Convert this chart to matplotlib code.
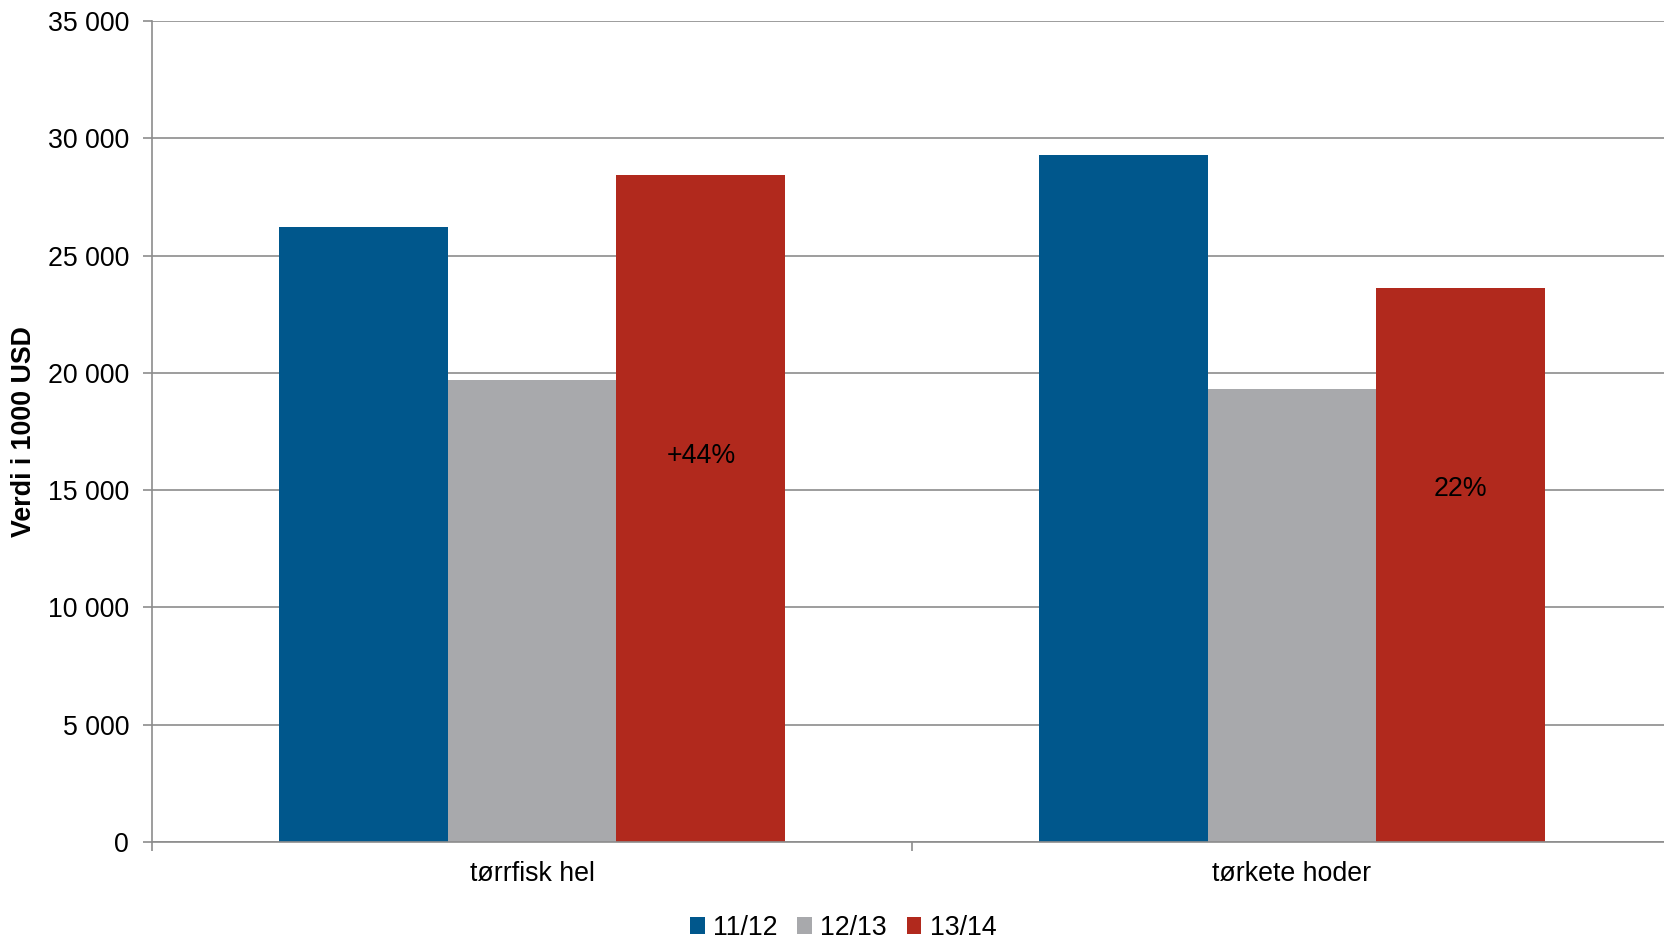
import matplotlib
matplotlib.use("Agg")
import matplotlib.pyplot as plt
from matplotlib.patches import Patch
from matplotlib.ticker import FuncFormatter
import numpy as np

plt.rcParams['font.family'] = ['Liberation Sans', 'DejaVu Sans']

categories = ["tørrfisk hel", "tørkete hoder"]
series_names = ["11/12", "12/13", "13/14"]
v_1112 = [26200, 29300]
v_1213 = [19700, 19300]
v_1314 = [28450, 23600]
annotations = ["+44%", "22%"]
annotation_y = [16450, 15050]
colors = ["#00578C", "#A8A9AC", "#B1291D"]

FS = 19.3

fig = plt.figure(figsize=(16.65, 9.4), dpi=100)
ax = fig.add_axes([152/1665, 1-842/940, (1672-152)/1665, (842-21)/940])

x = np.arange(len(categories))
w = 1/4.5
for i, (vals, c) in enumerate(zip([v_1112, v_1213, v_1314], colors)):
    ax.bar(x + (i-1)*w, vals, width=w, color=c, edgecolor='none', zorder=3)

for i, (t, yv) in enumerate(zip(annotations, annotation_y)):
    ax.text(x[i] + w, yv, t, ha='center', va='center', fontsize=FS, color='black', zorder=4)

ax.set_xlim(-0.5, 1.5)
ax.set_ylim(0, 35000)
ax.set_yticks(np.arange(0, 35001, 5000))
ax.yaxis.set_major_formatter(FuncFormatter(lambda v, p: f"{int(v):,}".replace(",", " ")))
ax.grid(axis='y', color='#8C8C8C', linewidth=1.2, zorder=1)
ax.tick_params(axis='y', length=6.5, width=1.2, color='#8C8C8C', labelsize=FS, pad=10)

ax.set_xticks([-0.5, 0.5, 1.5])
ax.set_xticklabels([])
ax.set_xticks(x, minor=True)
ax.set_xticklabels(categories, minor=True)
ax.tick_params(axis='x', which='major', length=6.5, width=1.2, color='#8C8C8C')
ax.tick_params(axis='x', which='minor', length=0, labelsize=FS, pad=14)

for s in ['top', 'right']:
    ax.spines[s].set_visible(False)
for s in ['left', 'bottom']:
    ax.spines[s].set_color('#8C8C8C')
    ax.spines[s].set_linewidth(1.2)
ax.spines['bottom'].set_zorder(5)

fig.text(24/1665, 1-432/940, "Verdi i 1000 USD", rotation=90, ha='center', va='center',
         fontsize=FS, fontweight='bold')

handles = [Patch(facecolor=c, edgecolor='none') for c in colors]
fig.legend(handles, series_names, loc='center', bbox_to_anchor=(843/1665, 1-928/940),
           ncol=3, frameon=False, fontsize=FS, handlelength=0.55, handleheight=0.55,
           handletextpad=0.3, columnspacing=0.75, borderpad=0, borderaxespad=0)

fig.savefig("out.png", dpi=100)
